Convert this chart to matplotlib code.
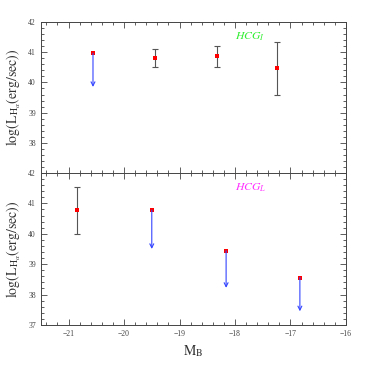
import matplotlib
matplotlib.use("Agg")
import matplotlib.pyplot as plt
from matplotlib.ticker import MultipleLocator

# HCG_I panel: detections with error bars
mb_i = [-19.45, -18.33, -17.24]
lum_i = [40.82, 40.88, 40.48]
lum_i_hi = [41.12, 41.22, 41.35]
lum_i_lo = [40.50, 40.50, 39.60]
# HCG_I upper limits
mb_i_lim = [-20.56]
lum_i_lim = [40.97]
lum_i_lim_end = [39.85]

# HCG_L panel
mb_l = [-20.84]
lum_l = [40.77]
lum_l_hi = [41.54]
lum_l_lo = [40.00]
mb_l_lim = [-19.50, -18.16, -16.83]
lum_l_lim = [40.78, 39.44, 38.56]
lum_l_lim_end = [39.50, 38.22, 37.45]

plt.rcParams["font.family"] = "serif"
plt.rcParams["font.serif"] = ["Liberation Serif", "DejaVu Serif"]
plt.rcParams["mathtext.fontset"] = "stix"

fig = plt.figure(figsize=(3.68, 3.68), dpi=100)
ax_top = fig.add_axes([0.111, 0.530, 0.829, 0.410])
ax_bot = fig.add_axes([0.111, 0.117, 0.829, 0.413], sharex=ax_top)


def draw_panel(ax, mb, lum, hi, lo, mb_lim, lum_lim, lim_end, label, color):
    yerr = [[l - b for l, b in zip(lum, lo)], [h - l for h, l in zip(hi, lum)]]
    ax.errorbar(mb, lum, yerr=yerr, fmt="none", ecolor="#555555",
                elinewidth=0.8, capsize=2.5, capthick=0.8)
    ax.plot(mb, lum, "s", color="red", markersize=3.2, markeredgewidth=0)
    for x, y0, y1 in zip(mb_lim, lum_lim, lim_end):
        ax.annotate("", xy=(x, y1), xytext=(x, y0),
                    arrowprops=dict(arrowstyle="->", color="#3344ff", lw=0.8,
                                    mutation_scale=7, shrinkA=0, shrinkB=0))
    ax.plot(mb_lim, lum_lim, "s", color="red", markersize=3.2, markeredgewidth=0)
    ax.text(-18.0, 41.5, label, color=color, fontsize=8.5, va="center")
    ax.set_ylim(37, 42)
    ax.set_xlim(-21.5, -16)
    ax.xaxis.set_major_locator(MultipleLocator(1))
    ax.xaxis.set_minor_locator(MultipleLocator(0.2))
    ax.yaxis.set_major_locator(MultipleLocator(1))
    ax.yaxis.set_minor_locator(MultipleLocator(0.2))
    ax.tick_params(which="both", direction="in", top=True, right=True,
                   labelsize=5.5, labelcolor="#444444", color="#444444", width=0.6)
    ax.tick_params(which="major", length=4)
    ax.tick_params(which="minor", length=2)
    for s in ax.spines.values():
        s.set_linewidth(0.7)
        s.set_color("#444444")
    ax.set_ylabel(r"$\log(\mathrm{L}_{\mathrm{H}_\alpha}(\mathrm{erg/sec}))$",
                  fontsize=10, color="#333333")


draw_panel(ax_top, mb_i, lum_i, lum_i_hi, lum_i_lo, mb_i_lim, lum_i_lim,
           lum_i_lim_end, r"$HCG_I$", "#33ee33")
draw_panel(ax_bot, mb_l, lum_l, lum_l_hi, lum_l_lo, mb_l_lim, lum_l_lim,
           lum_l_lim_end, r"$HCG_L$", "#ff33ff")

ax_top.set_yticks([38, 39, 40, 41, 42])
ax_top.tick_params(labelbottom=False)
ax_bot.set_yticks([37, 38, 39, 40, 41, 42])
ax_bot.set_yticklabels(["37", "38", "39", "40", "41", "42"])
ax_bot.set_xlabel(r"$\mathrm{M}_\mathrm{B}$", fontsize=10, color="#333333")

fig.savefig("out.png", dpi=100)
